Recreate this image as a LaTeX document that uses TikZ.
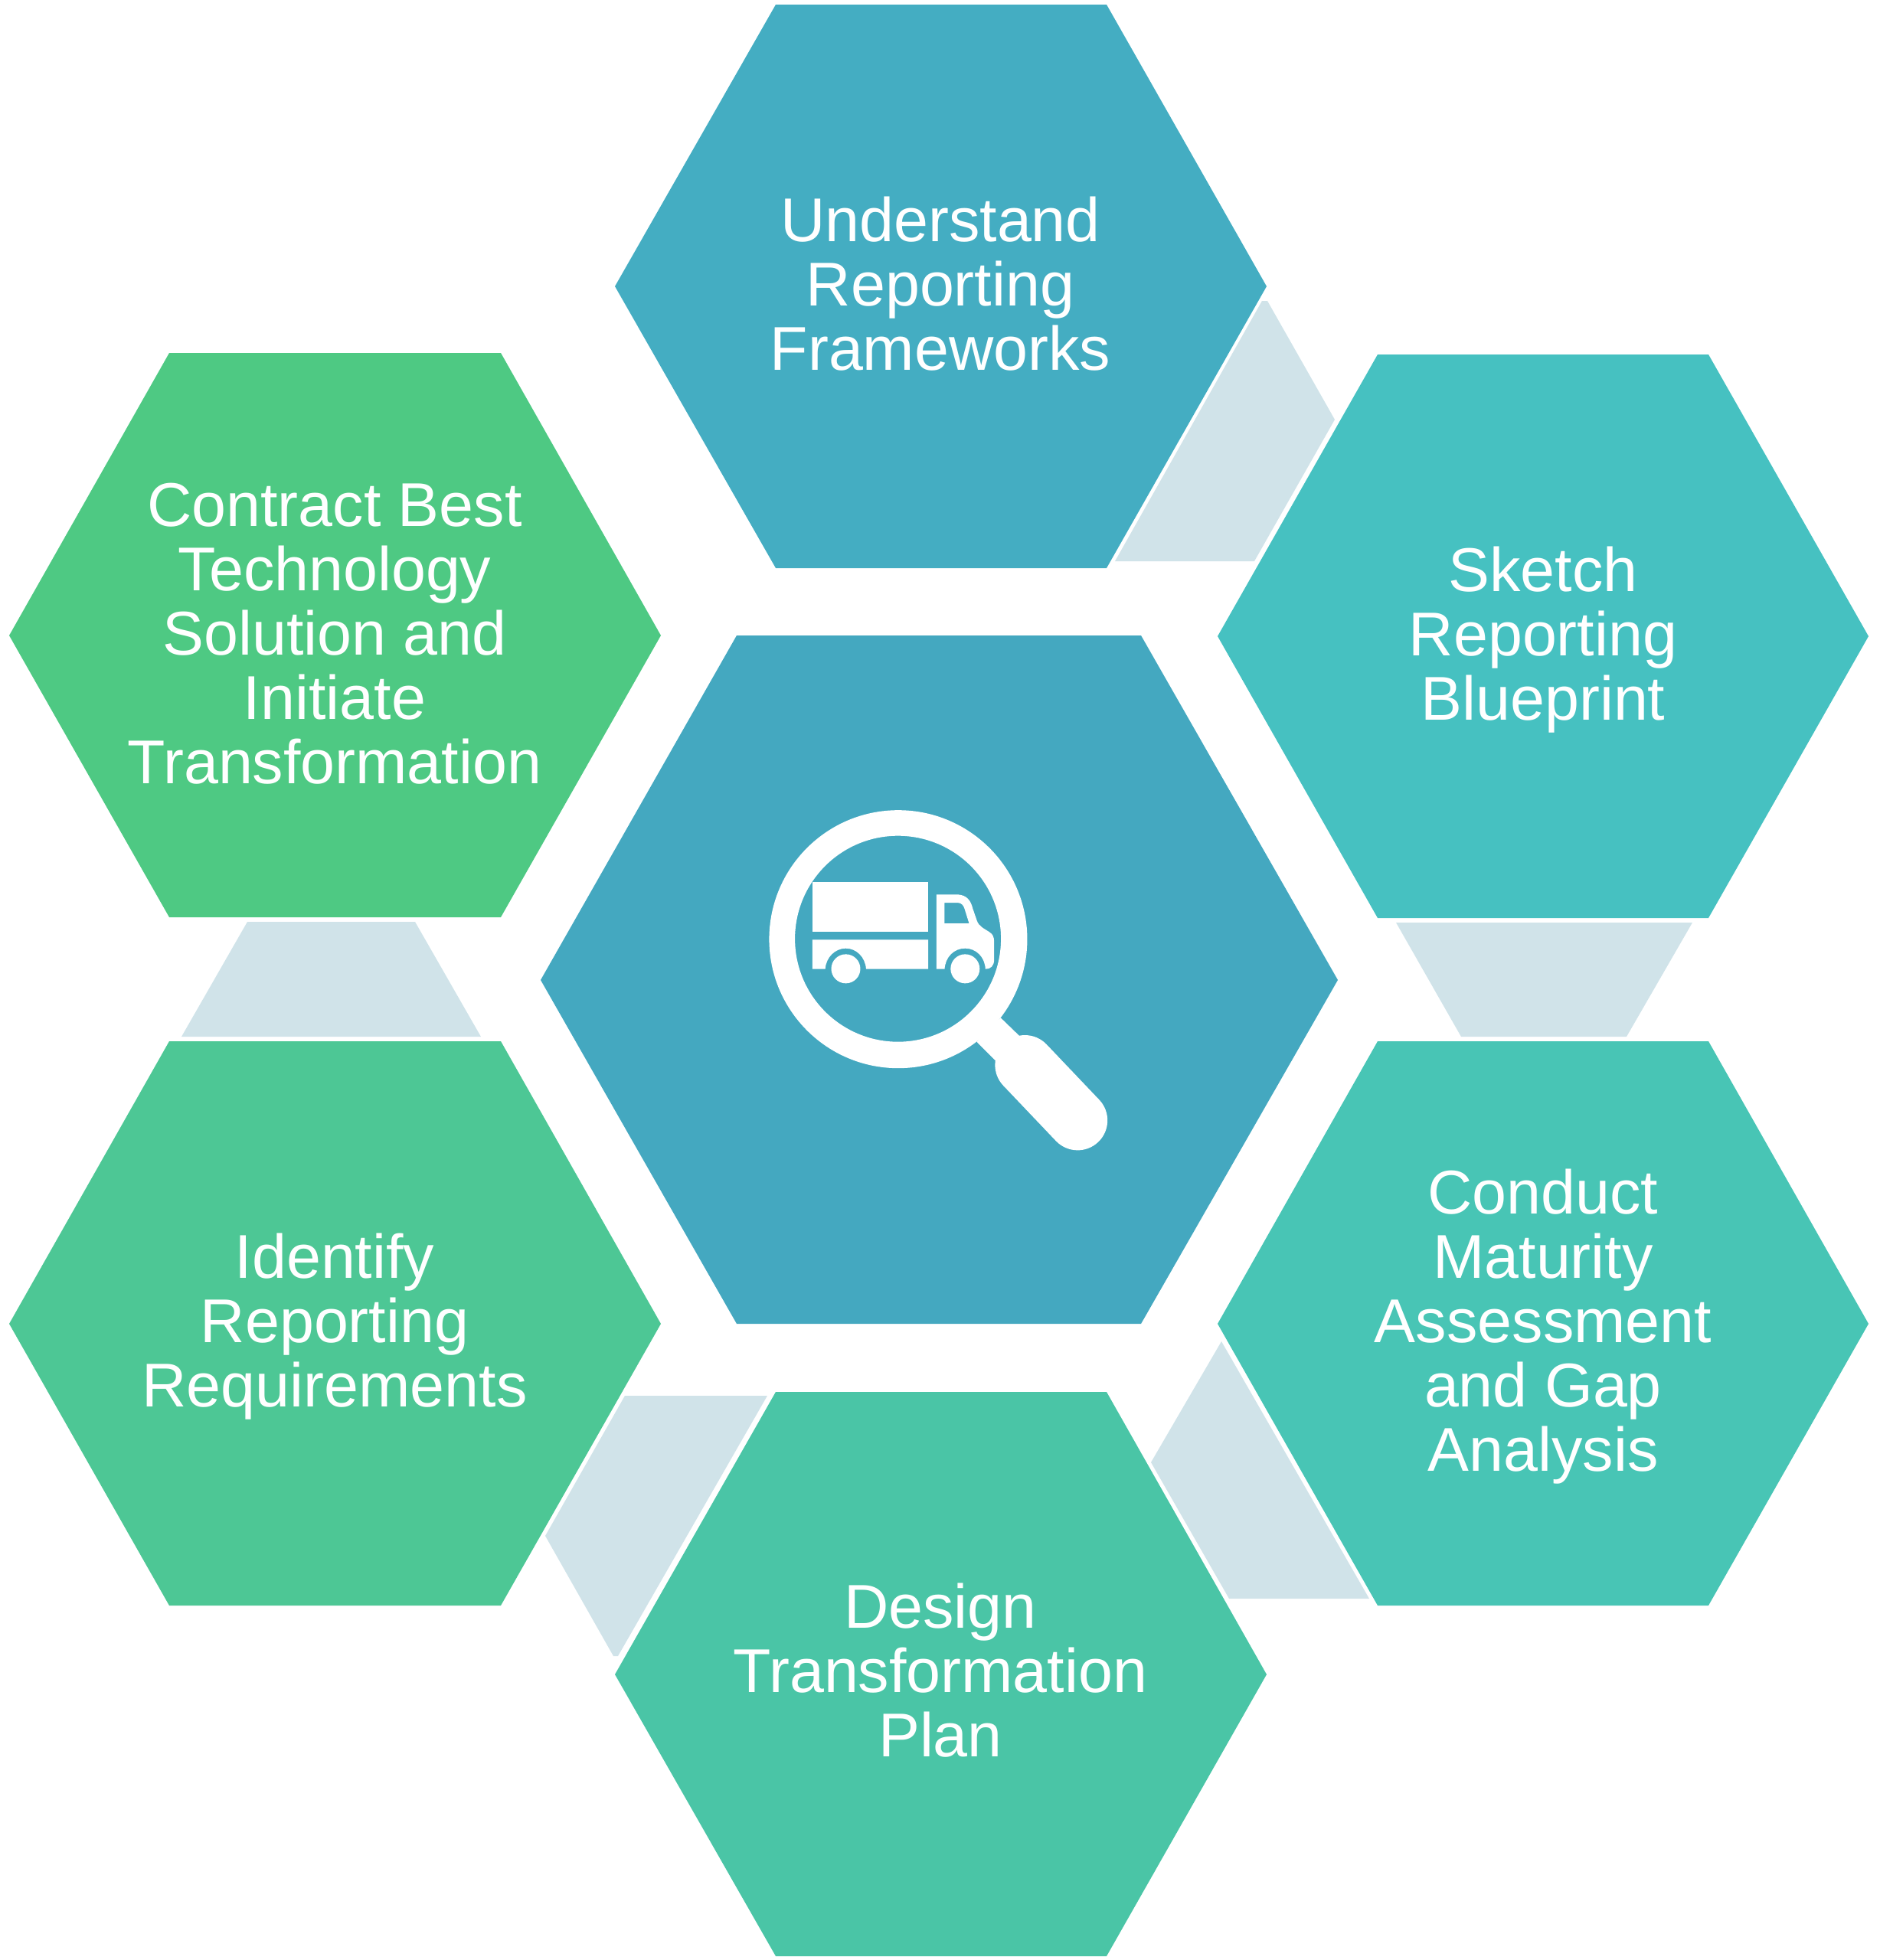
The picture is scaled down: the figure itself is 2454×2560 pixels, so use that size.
\documentclass[tikz,border=0pt]{standalone}
\usepackage{fontspec}
\setmainfont{Liberation Sans}
\definecolor{cTop}{HTML}{44ADC2}
\definecolor{cSketch}{HTML}{46C1C1}
\definecolor{cConduct}{HTML}{48C5B5}
\definecolor{cDesign}{HTML}{4AC5A6}
\definecolor{cIdentify}{HTML}{4DC795}
\definecolor{cContract}{HTML}{4EC983}
\definecolor{cCenter}{HTML}{44A8C0}
\definecolor{cLink}{HTML}{D0E3E9}
\tikzset{
  hexlabel/.style={text=white,align=center,font=\fontsize{40.4pt}{42pt}\selectfont,inner sep=0pt},
  linkshape/.style={fill=cLink},
  icon/.style={fill=white}
}
\begin{document}
\begin{tikzpicture}[x=0.5pt,y=-0.5pt]
\useasboundingbox (0,0) rectangle (2454,2560);
% links
\fill[linkshape] (1648,393)--(1655,393)--(1743,548)--(1638,733)--(1456,733)--cycle;
\fill[linkshape] (1823,1205)--(2210,1205)--(2124,1354)--(1908,1354)--cycle;
\fill[linkshape] (1595,1752)--(1788,2088)--(1605,2088)--(1503,1910)--cycle;
\fill[linkshape] (816,1823)--(1002,1823)--(807,2163)--(801,2163)--(712,2006)--cycle;
\fill[linkshape] (323,1204)--(542,1204)--(628,1354)--(237,1354)--cycle;
% hexagons
\fill[cTop] (803,374)--(1013,6)--(1445,6)--(1654,374)--(1445,742)--(1013,742)--cycle;
\fill[cSketch] (1590,831)--(1799,463)--(2231,463)--(2440,831)--(2231,1199)--(1799,1199)--cycle;
\fill[cConduct] (1590,1729)--(1799,1360)--(2231,1360)--(2440,1729)--(2231,2097)--(1799,2097)--cycle;
\fill[cDesign] (803,2187)--(1013,1818)--(1445,1818)--(1654,2187)--(1445,2555)--(1013,2555)--cycle;
\fill[cIdentify] (12,1729)--(221,1360)--(654,1360)--(863,1729)--(654,2097)--(221,2097)--cycle;
\fill[cContract] (12,830)--(221,461)--(654,461)--(863,830)--(654,1198)--(221,1198)--cycle;
\fill[cCenter] (706,1280)--(962,830)--(1490,830)--(1747,1280)--(1490,1729)--(962,1729)--cycle;
% labels
\node[hexlabel] (understand) at (1228,371) {Understand\\Reporting\\Frameworks};
\node[hexlabel] (sketch) at (2015,836) {Sketch\\Reporting\\Blueprint};
\node[hexlabel] (conduct) at (2015,1733) {Conduct\\Maturity\\Assessment\\and Gap\\Analysis};
\node[hexlabel] (design) at (1228,2182) {Design\\Transformation\\Plan};
\node[hexlabel] (identify) at (437,1733) {Identify\\Reporting\\Requirements};
\node[hexlabel] (contract) at (437,828) {Contract Best\\Technology\\Solution and\\Initiate\\Transformation};
% magnifier + truck, in zoom units (crop shown at 0.344 px per unit across, 1/3 px per unit down)
\begin{scope}[shift={(960,1020)},x=0.172pt,y=-0.16667pt]
  \fill[icon,even odd rule] (619,620) circle[radius=84.25pt] (618,618.5) circle[radius=67.25pt];
  \fill[icon] (1008,928)--(1078,998)--(987,1095)--(917,1022)--cycle;
  \draw[white,line cap=round,line width=39pt] (1100,1113)--(1300,1330);
  % truck box
  \fill[icon] (293,397) rectangle (733,590);
  \fill[icon] (293,622)--(733,622)--(733,737)--(497,737)
     .. controls (494,690) and (460,656) .. (420,656)
     .. controls (380,656) and (345,690) .. (342,737)--(293,737)--cycle;
  \fill[icon] (420,736) circle[radius=9.5pt];
  \fill[icon,even odd rule] (764,445)--(845,445)
     .. controls (880,447) and (895,470) .. (902,500)
     --(918,548) .. controls (925,570) and (945,578) .. (965,592)
     .. controls (978,600) and (983,612) .. (983,630)
     --(983,700) .. controls (983,725) and (970,737) .. (950,737)
     .. controls (948,690) and (915,656) .. (873,656)
     .. controls (830,656) and (798,690) .. (795,737)--(764,737)--cycle
     (795,477)--(845,477) .. controls (860,478) and (868,488) .. (872,505)
     --(888,558)--(795,558)--cycle;
  \fill[icon] (873,736) circle[radius=9.5pt];
\end{scope}
\end{tikzpicture}
\end{document}
